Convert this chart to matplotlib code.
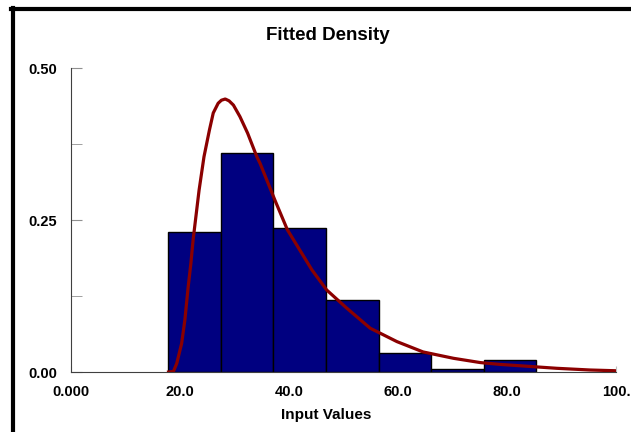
import matplotlib
matplotlib.use("Agg")
from matplotlib import pyplot as plt
from matplotlib.lines import Line2D

# histogram bins (left edges) and relative frequencies
bin_left = [17.85, 27.5, 37.15, 46.8, 56.45, 66.1, 75.75]
bin_width = 9.65
bin_prob = [0.230, 0.360, 0.237, 0.118, 0.032, 0.005, 0.020]

# fitted density curve
curve_x = [17.9, 18.8, 19.4, 20.3, 20.9, 21.5, 22.0, 22.4, 23.5, 24.4, 25.4,
           26.1, 27.0, 27.6, 28.3, 29.0, 29.8, 31.0, 32.4, 34.1, 34.7, 37.4,
           39.7, 44.2, 46.9, 50.6, 54.9, 59.8, 64.6, 70.2, 75.1, 78.7, 83.0,
           89.1, 95.2, 99.8]
curve_y = [0.0, 0.001, 0.014, 0.047, 0.086, 0.140, 0.179, 0.217, 0.299, 0.354,
           0.398, 0.426, 0.442, 0.447, 0.449, 0.446, 0.439, 0.420, 0.393, 0.354,
           0.343, 0.283, 0.234, 0.168, 0.135, 0.105, 0.072, 0.050, 0.033,
           0.0225, 0.0155, 0.0125, 0.0099, 0.0061, 0.0033, 0.0021]

x_ticks = [0, 20, 40, 60, 80, 100]
x_tick_labels = ["0.000", "20.0", "40.0", "60.0", "80.0", "100."]
y_ticks = [0.0, 0.25, 0.5]
y_tick_labels = ["0.00", "0.25", "0.50"]

plt.rcParams['font.family'] = ['Liberation Sans', 'DejaVu Sans']

fig = plt.figure(figsize=(6.31, 4.32), dpi=100)
ax = fig.add_axes([71 / 631, 1 - 372 / 432, 545 / 631, 304 / 432])

ax.bar(bin_left, bin_prob, width=bin_width, align='edge',
       color='#000080', edgecolor='black', linewidth=1, zorder=2)
ax.plot(curve_x, curve_y, color='#8b0000', linewidth=2.3, zorder=3,
        solid_joinstyle='round')

ax.set_xlim(0, 100)
ax.set_ylim(0, 0.5)

ax.set_xticks(x_ticks)
ax.set_xticklabels(x_tick_labels, fontweight='bold', fontsize=10.5)
ax.set_yticks(y_ticks)
ax.set_yticklabels(y_tick_labels, fontweight='bold', fontsize=10.5)
ax.set_yticks([0.125, 0.375], minor=True)
ax.tick_params(axis='x', direction='in', length=4, color='#c0c0c0', pad=9)
ax.tick_params(axis='y', which='both', direction='in', length=8, color='#909090', pad=10)

for s in ['top', 'right']:
    ax.spines[s].set_visible(False)
ax.spines['left'].set_color('#404040')
ax.spines['bottom'].set_color('#404040')

fig.text(328 / 631, 1 - 35 / 432, "Fitted Density", ha='center', va='center',
         fontsize=13.5, fontweight='bold')
fig.text(326 / 631, 1 - 415 / 432, "Input Values", ha='center', va='center',
         fontsize=11, fontweight='bold')

# black frame on the top and left edges
fig.add_artist(Line2D([13 / 631, 13 / 631], [0, 1 - 8 / 432], color='black',
                      linewidth=3, transform=fig.transFigure))
fig.add_artist(Line2D([11 / 631, 1], [1 - 8.5 / 432, 1 - 8.5 / 432], color='black',
                      linewidth=3, transform=fig.transFigure))

plt.savefig("out.png", dpi=100)
